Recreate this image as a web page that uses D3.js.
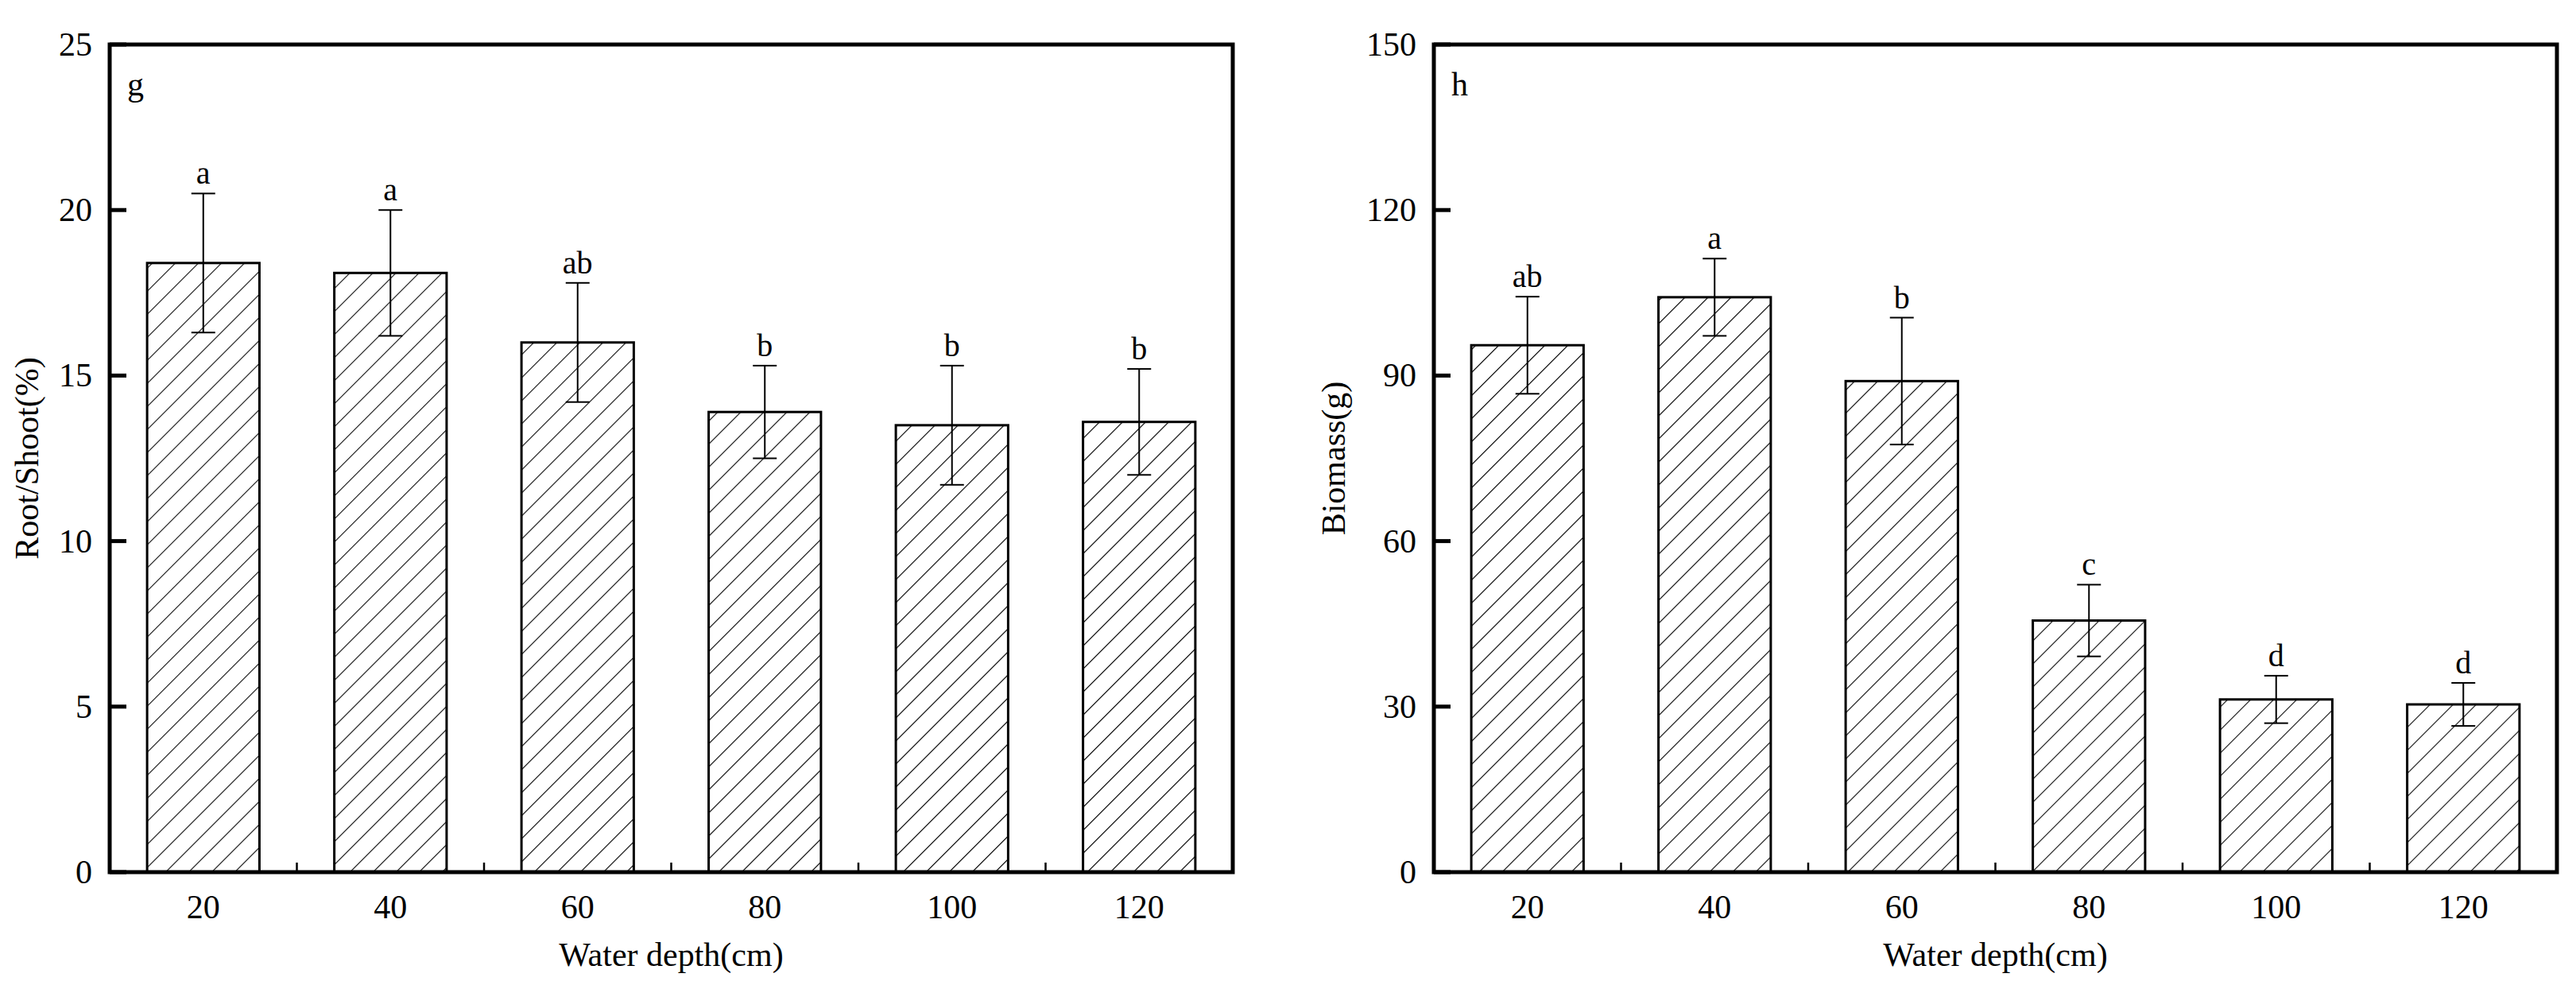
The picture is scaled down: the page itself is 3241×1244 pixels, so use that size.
<!DOCTYPE html><html><head><script src="https://cdn.jsdelivr.net/npm/d3@7"></script>
<style>body{margin:0;background:#fff}text{font-family:"Liberation Serif","Times New Roman",serif;fill:#000}</style></head><body>
<svg id="c" width="3241" height="1244"></svg>
<script>
const categories=["20","40","60","80","100","120"];
const rootShoot=[18.4,18.1,16.0,13.9,13.5,13.6];
const rootShootErr=[2.1,1.9,1.8,1.4,1.8,1.6];
const rootShootLetters=["a","a","ab","b","b","b"];
const rootTicks=[0,5,10,15,20,25];
const biomass=[95.5,104.2,89.0,45.6,31.3,30.4];
const biomassErr=[8.8,7.0,11.5,6.5,4.3,3.9];
const biomassLetters=["ab","a","b","c","d","d"];
const bioTicks=[0,30,60,90,120,150];

const svg=d3.select("#c");
const defs=svg.append("defs");
const pat=defs.append("pattern").attr("id","hatch").attr("patternUnits","userSpaceOnUse")
 .attr("width",29).attr("height",29).attr("patternTransform","rotate(45)");
pat.append("line").attr("x1",0).attr("y1",0).attr("x2",0).attr("y2",29).attr("stroke","#000").attr("stroke-width",2.2);
pat.attr("width",20.5).attr("height",20.5).select("line").attr("y2",20.5);

function panel(o){
 const {x0,x1,y0,y1,vals,errs,letters,ticks,ymax,ylabel,tag,ylx}=o;
 const x=d3.scaleBand().domain(categories).range([x0,x1]).paddingInner(0.4).paddingOuter(0.2);
 const y=d3.scaleLinear().domain([0,ymax]).range([y1,y0]);
 const g=svg.append("g");
 g.selectAll("rect.bar").data(vals).join("rect").attr("x",(d,i)=>x(categories[i])).attr("y",d=>y(d))
  .attr("width",x.bandwidth()).attr("height",d=>y1-y(d)).attr("fill","url(#hatch)").attr("stroke","#000").attr("stroke-width",3);
 vals.forEach((v,i)=>{
  const cx=x(categories[i])+x.bandwidth()/2, t=y(v+errs[i]), b=y(v-errs[i]);
  g.append("line").attr("x1",cx).attr("x2",cx).attr("y1",t).attr("y2",b).attr("stroke","#000").attr("stroke-width",2);
  [t,b].forEach(yy=>g.append("line").attr("x1",cx-15).attr("x2",cx+15).attr("y1",yy).attr("y2",yy).attr("stroke","#000").attr("stroke-width",2));
  g.append("text").attr("x",cx).attr("y",t-12).attr("text-anchor","middle").attr("font-size",40).text(letters[i]);
 });
 // frame
 g.append("rect").attr("x",x0).attr("y",y0).attr("width",x1-x0).attr("height",y1-y0).attr("fill","none").attr("stroke","#000").attr("stroke-width",5);
 // y ticks
 ticks.forEach(t=>{
  g.append("line").attr("x1",x0).attr("x2",x0+21).attr("y1",y(t)).attr("y2",y(t)).attr("stroke","#000").attr("stroke-width",5);
  g.append("text").attr("x",x0-22).attr("y",y(t)+14).attr("text-anchor","end").attr("font-size",42).text(t);
 });
 // x minor ticks between bars
 categories.slice(1).forEach(c=>{
  const xx=x(c)-x.step()*0.2;
  g.append("line").attr("x1",xx).attr("x2",xx).attr("y1",y1).attr("y2",y1-12).attr("stroke","#000").attr("stroke-width",2.5);
 });
 categories.forEach(c=>g.append("text").attr("x",x(c)+x.bandwidth()/2).attr("y",1155).attr("text-anchor","middle").attr("font-size",42).text(c));
 g.append("text").attr("x",(x0+x1)/2).attr("y",1215).attr("text-anchor","middle").attr("font-size",42).text("Water depth(cm)");
 g.append("text").attr("transform",`translate(${ylx},${(y0+y1)/2}) rotate(-90)`).attr("text-anchor","middle").attr("font-size",42).text(ylabel);
 g.append("text").attr("x",x0+22).attr("y",y0+64).attr("font-size",42).text(tag);
}
panel({x0:138,x1:1551,y0:56,y1:1097,vals:rootShoot,errs:rootShootErr,letters:rootShootLetters,ticks:rootTicks,ymax:25,ylabel:"Root/Shoot(%)",tag:"g",ylx:48});
panel({x0:1804,x1:3217,y0:56,y1:1097,vals:biomass,errs:biomassErr,letters:biomassLetters,ticks:bioTicks,ymax:150,ylabel:"Biomass(g)",tag:"h",ylx:1692});
</script></body></html>
